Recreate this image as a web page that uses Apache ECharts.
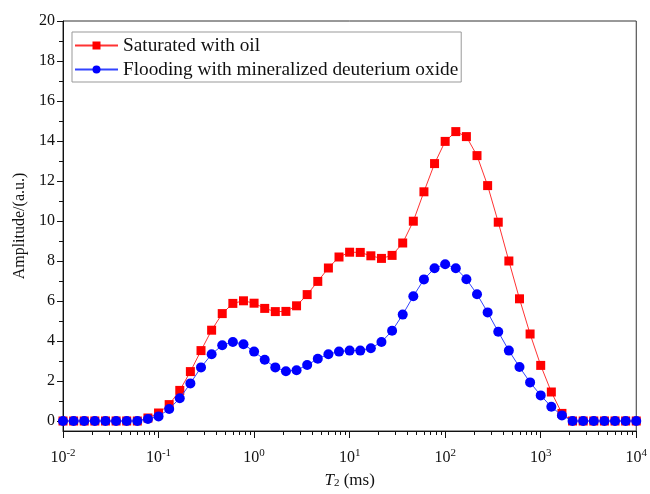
<!DOCTYPE html>
<html>
<head>
<meta charset="utf-8">
<script src="https://cdn.jsdelivr.net/npm/echarts@6/dist/echarts.min.js"></script>
<style>
html,body{margin:0;padding:0;background:#fff;}
#c{width:650px;height:494px;}
</style>
</head>
<body>
<div id="c"></div>
<script>
// T2 relaxation times (ms), 9 points per decade
var t2 = [0.01, 0.01292, 0.01668, 0.02154, 0.02783, 0.03594, 0.04642, 0.05995, 0.07743,
  0.1, 0.1292, 0.1668, 0.2154, 0.2783, 0.3594, 0.4642, 0.5995, 0.7743,
  1, 1.292, 1.668, 2.154, 2.783, 3.594, 4.642, 5.995, 7.743,
  10, 12.92, 16.68, 21.54, 27.83, 35.94, 46.42, 59.95, 77.43,
  100, 129.2, 166.8, 215.4, 278.3, 359.4, 464.2, 599.5, 774.3,
  1000, 1292, 1668, 2154, 2783, 3594, 4642, 5995, 7743, 10000];

var saturatedOil = [0, 0, 0, 0, 0, 0, 0, 0, 0.15,
  0.4, 0.82, 1.53, 2.47, 3.52, 4.54, 5.37, 5.88, 6.01,
  5.89, 5.63, 5.47, 5.48, 5.76, 6.32, 6.98, 7.65, 8.2,
  8.44, 8.43, 8.26, 8.13, 8.28, 8.9, 9.99, 11.46, 12.87,
  13.98, 14.47, 14.22, 13.27, 11.77, 9.94, 8.0, 6.11, 4.35,
  2.78, 1.45, 0.38, 0, 0, 0, 0, 0, 0, 0];

var floodingD2O = [0, 0, 0, 0, 0, 0, 0, 0, 0.1,
  0.23, 0.6, 1.14, 1.88, 2.68, 3.34, 3.79, 3.95, 3.84,
  3.47, 3.06, 2.68, 2.49, 2.54, 2.8, 3.11, 3.34, 3.47,
  3.52, 3.52, 3.64, 3.95, 4.51, 5.32, 6.24, 7.08, 7.64,
  7.84, 7.64, 7.09, 6.34, 5.43, 4.46, 3.52, 2.7, 1.93,
  1.28, 0.71, 0.28, 0, 0, 0, 0, 0, 0, 0];

var seriesNames = ['Saturated with oil', 'Flooding with mineralized deuterium oxide'];
var yTickLabels = [0, 2, 4, 6, 8, 10, 12, 14, 16, 18, 20];
var yMinorTicks = [1, 3, 5, 7, 9, 11, 13, 15, 17, 19];
var xMinorTicks = [];
[0.01, 0.1, 1, 10, 100, 1000].forEach(function (d) {
  for (var k = 2; k <= 9; k++) xMinorTicks.push(+(d * k).toPrecision(3));
});

var FONT = 'Liberation Serif';
var yMin = -0.5, yMax = 20, xMin = 0.01, xMax = 10000;

function pairs(xs, ys) { return xs.map(function (x, i) { return [x, ys[i]]; }); }

var chart = echarts.init(document.getElementById('c'), null, {renderer: 'canvas'});
chart.setOption({
  animation: false,
  backgroundColor: '#fff',
  textStyle: {fontFamily: FONT, color: '#111'},
  grid: {left: 63, right: 11, top: 21, bottom: 59, show: true, borderColor: '#333', borderWidth: 1},
  legend: {
    data: seriesNames,
    orient: 'vertical',
    left: 72, top: 32,
    padding: [4, 3, 3, 2],
    itemGap: 5,
    itemWidth: 43, itemHeight: 10,
    borderColor: '#999', borderWidth: 1,
    textStyle: {fontFamily: FONT, fontSize: 19.3, color: '#111'}
  },
  xAxis: {
    type: 'log', logBase: 10, min: xMin, max: xMax,
    name: '{i|T}{sub|2}{n| (ms)}',
    nameLocation: 'middle', nameGap: 41,
    nameTextStyle: {
      rich: {
        i: {fontFamily: FONT, fontSize: 17, fontStyle: 'italic', color: '#111', verticalAlign: 'top', lineHeight: 17},
        sub: {fontFamily: FONT, fontSize: 11, color: '#111', verticalAlign: 'bottom', lineHeight: 12},
        n: {fontFamily: FONT, fontSize: 17, color: '#111', verticalAlign: 'top', lineHeight: 17}
      }
    },
    axisLine: {onZero: false, lineStyle: {color: '#111', width: 1}},
    axisTick: {show: true, inside: false, length: 7, lineStyle: {color: '#111'}},
    splitLine: {show: false},
    axisLabel: {
      margin: 17,
      formatter: function (v) {
        var e = Math.round(Math.log10(v));
        return '{b|10}{s|' + e + '}';
      },
      rich: {
        b: {fontFamily: FONT, fontSize: 16, color: '#111', verticalAlign: 'bottom', lineHeight: 18},
        s: {fontFamily: FONT, fontSize: 11, color: '#111', verticalAlign: 'top', lineHeight: 12}
      }
    }
  },
  yAxis: {
    type: 'value', min: yMin, max: yMax,
    name: 'Amplitude/(a.u.)',
    nameLocation: 'middle', nameGap: 31, nameRotate: 90,
    nameTextStyle: {fontFamily: FONT, fontSize: 16, color: '#111'},
    axisLine: {show: true, lineStyle: {color: '#111', width: 1}},
    axisTick: {show: true, inside: false, length: 6, customValues: yTickLabels, lineStyle: {color: '#111'}},
    splitLine: {show: false},
    axisLabel: {margin: 8, customValues: yTickLabels, fontFamily: FONT, fontSize: 16, color: '#111'}
  },
  series: [
    {
      name: seriesNames[0], type: 'line', data: pairs(t2, saturatedOil),
      symbol: 'rect', symbolSize: 9, showSymbol: true,
      itemStyle: {color: '#ff0000'},
      lineStyle: {color: '#ff3333', width: 1},
      z: 3
    },
    {
      name: seriesNames[1], type: 'line', data: pairs(t2, floodingD2O),
      symbol: 'circle', symbolSize: 10, showSymbol: true,
      itemStyle: {color: '#0000ff'},
      lineStyle: {color: '#3344ff', width: 1},
      z: 4
    },
    {
      name: 'xMinor', type: 'custom', silent: true,
      data: xMinorTicks.map(function (v) { return [v, yMin]; }),
      renderItem: function (params, api) {
        var p = api.coord([api.value(0), api.value(1)]);
        var x = Math.round(p[0]) + 0.5, y = Math.round(p[1]);
        return {type: 'line', shape: {x1: x, y1: y, x2: x, y2: y + 4}, style: {stroke: '#111', lineWidth: 1}};
      },
      z: 5
    },
    {
      name: 'yMinor', type: 'custom', silent: true,
      data: yMinorTicks.map(function (v) { return [xMin, v]; }),
      renderItem: function (params, api) {
        var p = api.coord([api.value(0), api.value(1)]);
        var x = Math.round(p[0]), y = Math.round(p[1]) + 0.5;
        return {type: 'line', shape: {x1: x - 4, y1: y, x2: x, y2: y}, style: {stroke: '#111', lineWidth: 1}};
      },
      z: 5
    }
  ]
});
</script>
</body>
</html>
